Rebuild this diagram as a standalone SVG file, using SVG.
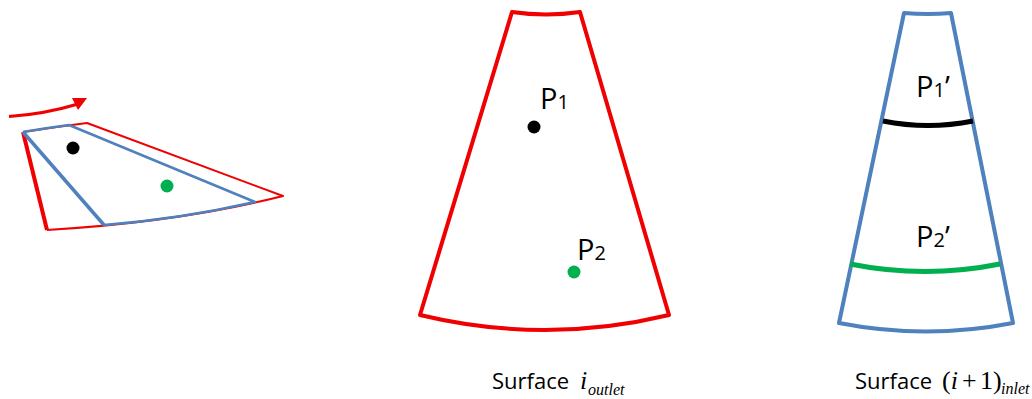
<svg xmlns="http://www.w3.org/2000/svg" width="1032" height="399" viewBox="0 0 1032 399">
<style>
.r{fill:none;stroke:#f00000;stroke-linejoin:round}
.b{fill:none;stroke:#4f81bd;stroke-linejoin:round}
.t{font-family:"Open Sans","Liberation Sans",sans-serif;fill:#000}
.m{font-family:"Liberation Serif",serif;fill:#000}
.i{font-style:italic}
</style>
<rect width="1032" height="399" fill="#fff"/>
<g id="rotated-view">
<path class="r" stroke-width="2" d="M23 132Q55 127 87 123L283 196Q180 222 47 230"/>
<path class="r" stroke-width="4" d="M23 132L47 230"/>
<path class="b" stroke-width="2.500" d="M23 132Q46 128 69 125L255 202Q180 219 104 225"/>
<path class="b" stroke-width="3.500" d="M23 132L104 225"/>
<circle cx="73" cy="148" r="6.500" fill="#000"/>
<circle cx="167" cy="186" r="6.500" fill="#00b050"/>
<path fill="none" stroke="#f00000" stroke-width="3" d="M9 116.500Q45 114 78 104"/>
<path fill="#f00000" d="M87 98L72 98L78 110Z"/>
</g>
<g id="surface-outlet">
<path class="r" stroke-width="4" d="M512 12Q546 17 580 12L669 315Q545 345 420 315Z"/>
<circle cx="534" cy="127" r="6.500" fill="#000"/>
<circle cx="574" cy="272" r="6.500" fill="#00b050"/>
<text class="t" x="540" y="109" font-size="29">P<tspan font-size="20">1</tspan></text>
<text class="t" x="577" y="260" font-size="29">P<tspan font-size="20">2</tspan></text>
<text class="t" x="492" y="389" font-size="22">Surface</text>
<text class="m i" x="580" y="389" font-size="26">i</text>
<text class="m i" x="588" y="395" font-size="16">outlet</text>
</g>
<g id="surface-inlet">
<path class="b" stroke-width="4" d="M904 13Q928 15 951 13L1013 323Q926 340 839 323Z"/>
<path fill="none" stroke="#000" stroke-width="5" d="M883 121Q928 130 973 121"/>
<path fill="none" stroke="#00b050" stroke-width="5" d="M850 264Q925 279 1000 264"/>
<text class="t" x="916" y="97" font-size="29">P<tspan font-size="20">1</tspan>’</text>
<text class="t" x="916" y="247" font-size="29">P<tspan font-size="20">2</tspan>’</text>
<text class="t" x="855" y="389" font-size="22">Surface</text>
<text class="m" x="942" y="389" font-size="26">(<tspan class="i">i</tspan></text>
<text class="m" x="962" y="389" font-size="26">+</text>
<text class="m" x="980" y="389" font-size="26">1)</text>
<text class="m i" x="1001" y="394" font-size="16">inlet</text>
</g>
</svg>
